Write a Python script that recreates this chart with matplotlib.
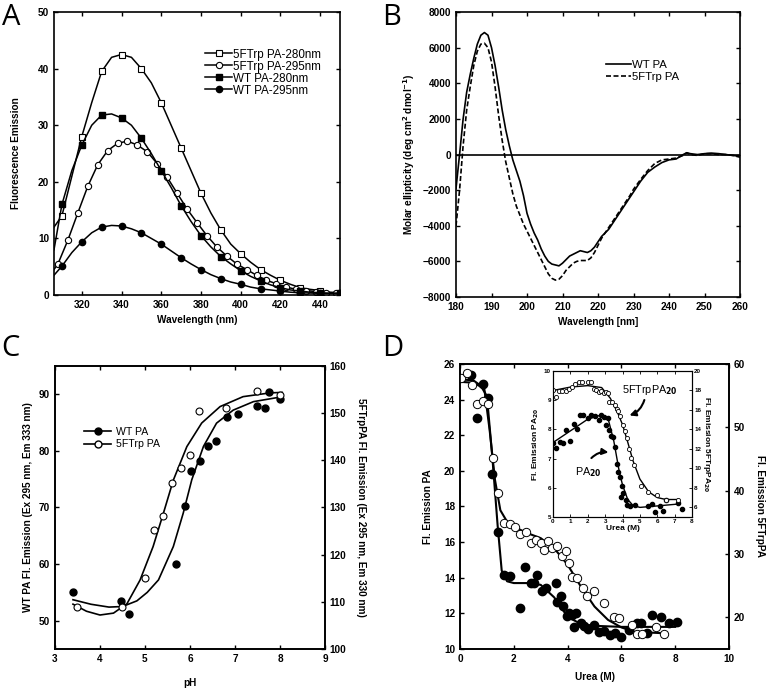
import matplotlib
matplotlib.use('Agg')
import matplotlib.pyplot as plt
import numpy as np

plt.rcParams['font.family'] = ['Liberation Sans', 'DejaVu Sans']
plt.rcParams['font.weight'] = 'bold'
plt.rcParams['xtick.direction'] = 'in'
plt.rcParams['ytick.direction'] = 'in'
plt.rcParams['axes.linewidth'] = 1.2

# ---- panel A : emission spectra ----
wl_sq = [306, 310, 315, 320, 325, 330, 335, 340, 345, 350, 355, 360, 365, 370, 375, 380,
         385, 390, 395, 400, 405, 410, 415, 420, 425, 430, 435, 440, 445, 450]
ft280 = [12, 14, 21, 28, 34, 39.5, 42, 42.5, 42, 40, 37.5, 34, 30, 26, 22, 18,
         14.5, 11.5, 9, 7.3, 5.8, 4.5, 3.5, 2.6, 1.9, 1.3, 1.0, 0.8, 0.5, 0.4]
wt280 = [8, 16, 22, 26.5, 30, 31.8, 32, 31.3, 30, 27.7, 25, 22, 19, 15.8, 13, 10.5,
         8.5, 6.8, 5.5, 4.3, 3.3, 2.5, 1.8, 1.3, 0.9, 0.7, 0.5, 0.4, 0.3, 0.3]
wt295 = [3.5, 5.1, 7.5, 9.4, 11, 12, 12.3, 12.2, 11.7, 11, 10, 9, 7.8, 6.6, 5.5, 4.5,
         3.6, 2.9, 2.3, 1.9, 1.4, 1.1, 0.9, 0.7, 0.5, 0.4, 0.35, 0.3, 0.3, 0.3]
wl_ci = [306, 308, 313, 318, 323, 328, 333, 338, 343, 348, 353, 358, 363, 368, 373, 378,
         383, 388, 393, 398, 403, 408, 413, 418, 423, 428, 433, 438, 443, 448]
ft295 = [4.5, 5.5, 9.7, 14.5, 19.2, 23, 25.5, 26.8, 27.2, 26.5, 25.3, 23.2, 20.8, 18, 15.2, 12.8,
         10.5, 8.5, 6.9, 5.5, 4.5, 3.5, 2.6, 2.0, 1.4, 1.0, 0.8, 0.6, 0.4, 0.3]

# ---- panel B : CD spectra ----
cd_wl = [180, 181, 182, 183, 184, 185, 186, 187, 188, 189, 190, 191, 192, 193, 194, 195,
         196, 197, 198, 199, 200, 201, 202, 203, 204, 205, 206, 207, 208, 209, 210, 211,
         212, 213, 214, 215, 216, 217, 218, 219, 220, 221, 222, 223, 224, 225, 226, 227,
         228, 229, 230, 232, 234, 236, 238, 240, 242, 244, 245, 246, 248, 250, 252, 254,
         256, 258, 260]
cd_wt = [-1900, 0, 2000, 3500, 4500, 5400, 6200, 6700, 6850, 6700, 6000, 5000, 3800, 2500, 1400, 500,
         -300, -900, -1500, -2300, -3300, -3900, -4400, -4800, -5300, -5700, -6000, -6150, -6200, -6250, -6100, -5900,
         -5700, -5600, -5500, -5400, -5450, -5500, -5400, -5200, -4900, -4600, -4400, -4200, -3900, -3600, -3300, -3000,
         -2700, -2400, -2100, -1500, -1000, -700, -450, -300, -250, 0, 100, 50, 0, 50, 80, 50,
         0, -50, -100]
cd_ft = [-4000, -2000, 500, 2500, 3800, 5000, 5800, 6200, 6250, 6000, 5200, 3800, 2200, 800, -400, -1300,
         -2200, -2900, -3400, -3900, -4300, -4700, -5100, -5500, -5900, -6300, -6700, -6950, -7050, -7000, -6800, -6500,
         -6300, -6100, -6000, -5950, -5950, -5950, -5800, -5500, -5100, -4700, -4400, -4100, -3800, -3500, -3200, -2900,
         -2600, -2300, -1950, -1400, -900, -500, -300, -250, -200, -50, 100, 0, -50, 50, 50, 0,
         0, -50, -150]

# ---- panel C : pH titration ----
ph_wt = [3.4, 4.46, 4.64, 5.68, 5.9, 6.03, 6.22, 6.39, 6.58, 6.83, 7.07, 7.5, 7.67, 7.76, 8.01]
em_wt = [55.1, 53.4, 51.2, 60.0, 70.3, 76.4, 78.3, 80.9, 81.8, 85.9, 86.6, 88.0, 87.5, 90.4, 89.1]
ph_ft = [3.5, 4.5, 5.0, 5.19, 5.4, 5.6, 5.81, 6.0, 6.2, 6.81, 7.5, 8.0]
em_ft = [109.0, 108.9, 115.0, 125.3, 128.3, 135.1, 138.3, 141.1, 150.5, 151.0, 154.7, 153.8]
fit_ph_wt = [3.4, 3.8, 4.2, 4.5, 4.82, 5.05, 5.3, 5.63, 5.85, 6.04, 6.3, 6.59, 6.96, 7.41, 8.0]
fit_wt = [53.7, 52.9, 52.4, 52.5, 53.5, 55.0, 57.2, 63.1, 69.0, 74.9, 80.8, 84.9, 87.2, 88.7, 89.5]
fit_ph_ft = [3.4, 3.7, 4.0, 4.3, 4.6, 4.89, 5.18, 5.41, 5.63, 5.93, 6.26, 6.67, 7.18, 7.78, 8.05]
fit_ft = [109.5, 108.0, 107.2, 107.6, 109.6, 114.6, 121.7, 128.8, 135.8, 142.9, 147.9, 151.4, 153.5, 154.3, 154.4]

# ---- panel D : urea denaturation ----
urea_pa = [0.42, 0.64, 0.85, 1.05, 1.2, 1.42, 1.64, 1.85, 2.22, 2.43, 2.64, 2.76, 2.87, 3.06, 3.2,
           3.56, 3.62, 3.74, 3.84, 3.97, 4.07, 4.18, 4.24, 4.3, 4.49, 4.61, 4.76, 4.98, 5.17, 5.35,
           5.58, 5.75, 5.97, 6.28, 6.59, 6.74, 6.96, 7.15, 7.46, 7.77, 8.05]
em_pa = [25.38, 22.95, 24.86, 24.07, 19.8, 16.58, 14.18, 14.09, 12.31, 14.61, 13.72, 13.73, 14.15, 13.25, 13.43,
         13.72, 12.65, 12.97, 12.41, 11.84, 12.03, 11.9, 11.25, 12.03, 11.43, 11.28, 11.1, 11.34, 10.96, 11.0,
         10.78, 10.87, 10.68, 11.06, 11.47, 11.43, 10.9, 11.9, 11.8, 11.47, 11.52]
urea_ft = [0.02, 0.25, 0.46, 0.64, 0.87, 1.04, 1.21, 1.42, 1.64, 1.86, 2.03, 2.23, 2.44, 2.63, 2.81,
           3.0, 3.12, 3.28, 3.43, 3.59, 3.78, 3.93, 4.05, 4.18, 4.34, 4.58, 4.73, 4.98, 5.35, 5.72,
           5.91, 6.41, 6.59, 6.78, 7.27, 7.58]
em_ft20 = [57.84, 58.5, 56.7, 53.7, 54.2, 53.7, 45.1, 39.6, 34.9, 34.7, 34.2, 33.1, 33.4, 31.7, 32.2,
           31.7, 30.6, 32.1, 30.9, 31.3, 29.7, 30.4, 28.5, 26.4, 26.2, 24.6, 23.3, 24.2, 22.3, 20.1,
           19.9, 18.8, 17.4, 17.4, 18.4, 17.4]
fit_u_pa = [0, 0.5, 0.8, 1.0, 1.2, 1.4, 1.55, 1.75, 2.0, 2.5, 3.0, 3.5, 4.0, 4.5, 5.0, 6.0, 8.0]
fit_pa = [25.0, 24.95, 24.7, 24.2, 20.8, 16.9, 14.4, 13.8, 13.7, 13.7, 13.6, 12.9, 11.8, 11.4, 11.3, 11.24, 11.24]
fit_u_ft = [0, 0.5, 0.9, 1.1, 1.3, 1.5, 1.75, 2.0, 2.5, 3.0, 3.5, 4.0, 4.5, 5.0, 5.5, 6.0, 6.5, 7.5]
fit_ft_d = [57.6, 57.4, 56.2, 49.6, 41.7, 36.9, 35.1, 34.3, 33.3, 32.5, 30.9, 28.3, 24.8, 21.7, 19.6, 18.4, 17.7, 17.5]

# inset (PA20)
in_u_pa = [0, 0.19, 0.42, 0.58, 0.77, 0.96, 1.19, 1.39, 1.58, 1.7, 2.0, 2.2, 2.41, 2.66, 2.79, 2.93,
           3.04, 3.16, 3.24, 3.31, 3.43, 3.55, 3.66, 3.76, 3.85, 3.95, 4.05, 3.89, 4.2, 4.28, 4.43,
           4.72, 5.49, 5.68, 6.17, 5.88, 6.32, 6.51, 7.19, 7.42]
in_pa = [7.52, 7.38, 7.57, 7.52, 7.97, 7.6, 8.17, 8.0, 8.49, 8.48, 8.38, 8.48, 8.47, 8.32, 8.48, 8.41,
         8.15, 8.39, 7.97, 7.79, 7.75, 7.4, 6.8, 6.55, 6.37, 6.06, 5.82, 5.69, 5.57, 5.4, 5.38,
         5.4, 5.38, 5.43, 5.38, 5.17, 5.2, 5.57, 5.48, 5.29]
in_u_ft = [0, 0.15, 0.35, 0.54, 0.73, 0.92, 1.12, 1.27, 1.5, 1.66, 2.0, 2.18, 2.35, 2.5, 2.66, 2.79,
           2.93, 3.04, 3.14, 3.24, 3.41, 3.56, 3.66, 3.76, 3.85, 4.05, 4.14, 4.24, 4.35, 4.49, 4.68,
           5.07, 5.49, 6.01, 6.49, 7.17]
in_ft = [18.04, 17.3, 17.97, 17.94, 17.97, 18.15, 18.39, 18.63, 18.83, 18.83, 18.83, 18.83, 18.11, 18.04, 17.87, 17.97,
         17.77, 17.87, 17.7, 16.84, 16.84, 16.5, 16.09, 15.88, 15.37, 14.44, 13.86, 13.07, 12.04, 11.11, 10.32,
         8.19, 7.58, 7.23, 6.72, 6.79]
in_fit_u_pa = [0, 1.0, 2.0, 2.8, 3.2, 3.5, 3.8, 4.0, 4.3, 4.6, 5.0, 6.0, 7.3]
in_fit_pa = [7.55, 7.95, 8.35, 8.5, 8.3, 7.6, 6.6, 6.1, 5.6, 5.4, 5.33, 5.38, 5.45]
in_fit_u_ft = [0, 1.0, 2.0, 2.8, 3.3, 3.7, 4.0, 4.3, 4.6, 5.0, 5.5, 6.0, 6.5, 7.2]
in_fit_ft = [18.0, 18.35, 18.5, 18.3, 17.2, 15.8, 14.5, 12.7, 10.8, 8.9, 7.6, 7.0, 6.8, 6.8]

fs = 7.2
fig = plt.figure(figsize=(7.69, 6.89), dpi=100)


def style(ax):
    ax.tick_params(labelsize=fs, width=1.0, length=3, top=True, right=True)
    for lab in ax.get_xticklabels() + ax.get_yticklabels():
        lab.set_fontweight('bold')


# A
axA = fig.add_axes([0.0702, 0.5718, 0.3719, 0.4107])
lw = 1.1
axA.plot(wl_sq, ft280, '-', color='k', lw=lw, marker='s', mfc='white', mec='k', ms=4.5, mew=0.8,
         markevery=(1, 2), label='5FTrp PA-280nm')
axA.plot(wl_ci, ft295, '-', color='k', lw=lw, marker='o', mfc='white', mec='k', ms=4.5, mew=0.8,
         markevery=(1, 1), label='5FTrp PA-295nm')
axA.plot(wl_sq, wt280, '-', color='k', lw=lw, marker='s', mfc='k', mec='k', ms=4.5,
         markevery=(1, 2), label='WT PA-280nm')
axA.plot(wl_sq, wt295, '-', color='k', lw=lw, marker='o', mfc='k', mec='k', ms=4.5,
         markevery=(1, 2), label='WT PA-295nm')
axA.set_xlim(306, 450)
axA.set_ylim(0, 50)
axA.set_xticks([320, 340, 360, 380, 400, 420, 440])
axA.set_yticks([0, 10, 20, 30, 40, 50])
style(axA)
axA.set_xlabel('Wavelength (nm)', fontsize=fs, fontweight='bold', labelpad=4)
axA.set_ylabel('Fluorescence Emission', fontsize=fs, fontweight='bold', labelpad=12)
leg = axA.legend(loc='upper left', bbox_to_anchor=(0.5, 0.9), frameon=False, fontsize=8.4,
                 handlelength=2.3, handletextpad=0.1, labelspacing=0.0, borderpad=0.2)
for t in leg.get_texts():
    t.set_fontweight('normal')

# B
axB = fig.add_axes([0.5930, 0.5689, 0.3693, 0.4136])
axB.plot(cd_wl, cd_wt, '-', color='k', lw=1.2, label='WT PA')
axB.plot(cd_wl, cd_ft, '--', color='k', lw=1.2, dashes=(3, 1.5), label='5FTrp PA')
axB.axhline(0, color='k', lw=1.2)
axB.set_xlim(180, 260)
axB.set_ylim(-8000, 8000)
axB.set_xticks(np.arange(180, 261, 10))
axB.set_yticks(np.arange(-8000, 8001, 2000))
style(axB)
axB.set_xlabel('Wavelength [nm]', fontsize=fs, fontweight='bold', labelpad=4)
axB.set_ylabel('Molar ellipticity (deg cm$^{2}$ dmol$^{-1}$)', fontsize=fs, fontweight='bold', labelpad=4)
legB = axB.legend(loc='upper left', bbox_to_anchor=(0.5, 0.86), frameon=False, fontsize=8.2,
                  handlelength=2.2, handletextpad=0.1, labelspacing=0.15, borderpad=0.2)
for t in legB.get_texts():
    t.set_fontweight('normal')

# C
axC = fig.add_axes([0.0715, 0.0581, 0.3511, 0.4107])
axC2 = axC.twinx()
axC.plot(fit_ph_wt, fit_wt, '-', color='k', lw=1.2)
axC2.plot(fit_ph_ft, fit_ft, '-', color='k', lw=1.2)
axC.plot(ph_wt, em_wt, 'o', color='k', ms=5)
axC2.plot(ph_ft, em_ft, 'o', mfc='white', mec='k', ms=5, mew=0.8)
axC.set_xlim(3, 9)
axC.set_ylim(45, 95)
axC2.set_ylim(100, 160)
axC.set_yticks([50, 60, 70, 80, 90])
axC2.set_yticks(np.arange(100, 161, 10))
axC.set_xticks(np.arange(3, 10, 1))
axC.tick_params(labelsize=fs, width=1.0, length=3, top=True, right=False)
axC2.tick_params(labelsize=fs, width=1.0, length=3)
for lab in axC.get_xticklabels() + axC.get_yticklabels() + axC2.get_yticklabels():
    lab.set_fontweight('bold')
axC.set_xlabel('pH', fontsize=fs, fontweight='bold', labelpad=10)
axC.set_ylabel('WT PA Fl. Emission (Ex 295 nm, Em 333 nm)', fontsize=fs, fontweight='bold', labelpad=4)
axC2.set_ylabel('5FTrpPA Fl. Emission (Ex 295 nm, Em 330 nm)', fontsize=fs, fontweight='bold',
                rotation=270, labelpad=14)
h1 = axC.plot([], [], '-o', color='k', ms=5, lw=1.2, label='WT PA')[0]
h2 = axC.plot([], [], '-o', color='k', mfc='white', ms=5, lw=1.2, label='5FTrp PA')[0]
legC = axC.legend(handles=[h1, h2], loc='upper left', bbox_to_anchor=(0.08, 0.81), frameon=False,
                  fontsize=7.6, handlelength=2.6, handletextpad=0.4, labelspacing=0.2, borderpad=0.2)
for t in legC.get_texts():
    t.set_fontweight('normal')

# D
axD = fig.add_axes([0.5982, 0.0581, 0.3498, 0.4136])
axD2 = axD.twinx()
axD.plot(fit_u_pa, fit_pa, '-', color='k', lw=1.5)
axD2.plot(fit_u_ft, fit_ft_d, '-', color='k', lw=1.5)
axD.plot(urea_pa, em_pa, 'o', color='k', ms=6)
axD2.plot(urea_ft, em_ft20, 'o', mfc='white', mec='k', ms=6, mew=0.7)
axD.set_xlim(0, 10)
axD.set_ylim(10, 26)
axD2.set_ylim(15, 60)
axD.set_xticks(np.arange(0, 11, 2))
axD.set_yticks(np.arange(10, 27, 2))
axD2.set_yticks([20, 30, 40, 50, 60])
axD.tick_params(labelsize=fs, width=1.0, length=3, top=True, right=False)
axD2.tick_params(labelsize=fs, width=1.0, length=3)
for lab in axD.get_xticklabels() + axD.get_yticklabels() + axD2.get_yticklabels():
    lab.set_fontweight('bold')
axD.set_xlabel('Urea (M)', fontsize=fs, fontweight='bold', labelpad=6)
axD.set_ylabel('Fl. Emission PA', fontsize=fs, fontweight='bold', labelpad=8)
fig.text(0.9885, 0.0581 + 0.4136 / 2, 'Fl. Emission 5FTrpPA', fontsize=fs, fontweight='bold',
         rotation=270, ha='center', va='center')

# inset
axI = fig.add_axes([0.7191, 0.2496, 0.1808, 0.2119])
axI2 = axI.twinx()
axI.plot(in_fit_u_pa, in_fit_pa, '-', color='k', lw=1.0)
axI2.plot(in_fit_u_ft, in_fit_ft, '-', color='k', lw=1.0)
axI.plot(in_u_pa, in_pa, 'o', color='k', ms=3)
axI2.plot(in_u_ft, in_ft, 'o', mfc='white', mec='k', ms=3, mew=0.6)
axI.set_xlim(0, 8)
axI.set_ylim(5, 10)
axI2.set_ylim(5, 20)
axI.set_xticks(np.arange(0, 9, 1))
axI.set_yticks([5, 6, 7, 8, 9, 10])
axI2.set_yticks(np.arange(6, 21, 2))
for a in (axI, axI2):
    for s in a.spines.values():
        s.set_linewidth(0.8)
axI.tick_params(labelsize=4.5, width=0.6, length=2, top=True, right=False, pad=1.5)
axI2.tick_params(labelsize=4.5, width=0.6, length=2, pad=1.5)
for lab in axI.get_xticklabels() + axI.get_yticklabels() + axI2.get_yticklabels():
    lab.set_fontweight('bold')
axI.set_xlabel('Urea (M)', fontsize=6, fontweight='bold', labelpad=1)
axI.set_ylabel('Fl. Emission PA$_{20}$', fontsize=6, fontweight='bold', labelpad=2)
axI2.set_ylabel('Fl. Emission 5FTrpPA$_{20}$', fontsize=6, fontweight='bold', rotation=270, labelpad=8)
axI.annotate('', xy=(4.25, 8.45), xytext=(5.3, 9.1),
             arrowprops=dict(arrowstyle='-|>', color='k', lw=1.5, connectionstyle='arc3,rad=-0.3',
                             mutation_scale=9))
axI.text(3.95, 9.35, '5FTrpPA$_{20}$', fontsize=7.8, fontweight='normal', ha='left', va='center')
axI.annotate('', xy=(3.35, 7.2), xytext=(2.1, 6.95),
             arrowprops=dict(arrowstyle='-|>', color='k', lw=1.5, connectionstyle='arc3,rad=-0.3',
                             mutation_scale=9))
axI.text(1.25, 6.55, 'PA$_{20}$', fontsize=7.8, fontweight='normal', ha='left', va='center')

# panel letters
for x, y, s in [(0.002, 0.995, 'A'), (0.497, 0.995, 'B'), (0.002, 0.515, 'C'), (0.497, 0.515, 'D')]:
    fig.text(x, y, s, fontsize=21, fontweight='normal', family='Open Sans', ha='left', va='top')

fig.savefig('out.png', dpi=100)
